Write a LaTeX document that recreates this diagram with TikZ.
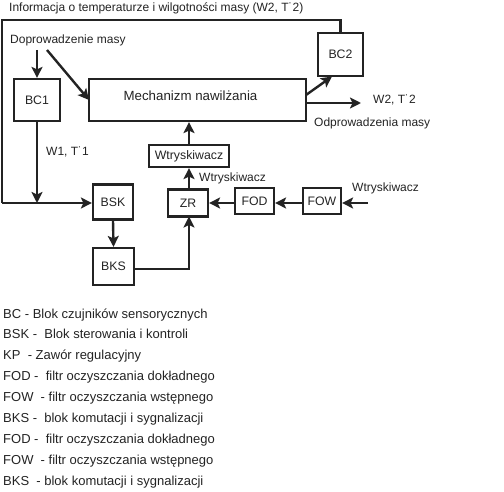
\documentclass[tikz,border=0pt]{standalone}
\usepackage{fontspec}
\setmainfont{Liberation Sans}
\usetikzlibrary{arrows.meta}
\definecolor{ink}{RGB}{35,35,35}
\begin{document}
\begin{tikzpicture}[x=1pt,y=-1pt, line width=2.4pt, draw=ink,
  blk/.style={draw=ink, line width=2.2pt, inner sep=0pt, font=\fontsize{12.3}{14}\selectfont, text=ink},
  lbl/.style={inner sep=0pt, font=\fontsize{12}{14}\selectfont, text=ink},
  leg/.style={inner sep=0pt, anchor=base west, font=\fontsize{13}{15}\selectfont, text=ink},
  arr/.style={-{Stealth[length=11pt,width=11pt,inset=2.5pt]}}]
\useasboundingbox (0,0) rectangle (504,492);
% boxes
\node[blk, minimum width=45pt, minimum height=43pt] (bc2) at (340.5,54.5) {BC2};
\node[blk, minimum width=46pt, minimum height=42pt] (bc1) at (37,100) {BC1};
\node[blk, minimum width=217pt, minimum height=42pt] (mech) at (197.5,100) {};
\node[lbl, font=\fontsize{13.3}{15}\selectfont] (mecht) at (190.5,96) {Mechanizm nawilżania};
\node[blk, minimum width=40pt, minimum height=35pt] (bsk) at (113,202) {BSK};
\node[blk, minimum width=41pt, minimum height=37pt] (bks) at (113.5,266.5) {BKS};
\node[blk, minimum width=40pt, minimum height=27pt] (zr) at (188,203) {ZR};
\node[blk, minimum width=39pt, minimum height=26pt] (fod) at (254.5,201) {FOD};
\node[blk, minimum width=38pt, minimum height=26pt] (fow) at (322,201) {FOW};
\node[blk, minimum width=80pt, minimum height=22pt] (wtr) at (189,156) {Wtryskiwacz};
% labels
\node[lbl, anchor=base west] (title) at (8,12) {Informacja o temperaturze i wilgotności masy (W2, T˙2)};
\node[lbl, anchor=base west] (dopr) at (9,44) {Doprowadzenie masy};
\node[lbl, anchor=base west] (w2) at (372,104) {W2, T˙2};
\node[lbl, anchor=base west] (odpr) at (313,127) {Odprowadzenia masy};
\node[lbl, anchor=base west] (w1) at (45,156) {W1, T˙1};
\node[lbl, anchor=base west] (wtrl) at (198,182) {Wtryskiwacz};
\node[lbl, anchor=base west] (wtrr) at (351,192) {Wtryskiwacz};
% coordinates
\coordinate (tl) at (2,20);
\coordinate (tr) at (340.5,20);
\coordinate (bl) at (2,203);
\coordinate (j1) at (37,203);
\coordinate (d1) at (37,50);
\coordinate (d2) at (47,50);
\coordinate (w2e) at (361,103);
\coordinate (inR) at (368,203);
\coordinate (bkc) at (189,269);
% connectors
\draw (bc2.north) -- (tr) -- (tl) -- (bl);
\draw[arr] (bl) -- (bsk.west |- bl);
\draw[arr] (bc1.south) -- (j1);
\draw[arr] (d1) -- (bc1.north);
\draw[arr] (d2) -- (89,100);
\draw[arr] (306,95) -- (332,76.5);
\draw[arr] (306,103) -- (w2e);
\draw[arr] (bsk.south) -- (bks.north);
\draw[arr] (bks.east |- bkc) -- (bkc) -- (189,216.5);
\draw[arr] (inR) -- (fow.east |- inR);
\draw[arr] (fow.west |- inR) -- (fod.east |- inR);
\draw[arr] (fod.west |- inR) -- (zr.east |- inR);
\draw[arr] (189,189.5) -- (wtr.south);
\draw[arr] (wtr.north) -- (mech.south -| wtr.north);
% legend
\node[leg] (l1) at (2,318) {BC - Blok czujników sensorycznych};
\node[leg] (l2) at (2,338.9) {BSK -\ \ Blok sterowania i kontroli};
\node[leg] (l3) at (2,359.8) {KP\ \ - Zawór regulacyjny};
\node[leg] (l4) at (2,380.7) {FOD -\ \ filtr oczyszczania dokładnego};
\node[leg] (l5) at (2,401.6) {FOW\ \ - filtr oczyszczania wstępnego};
\node[leg] (l6) at (2,422.5) {BKS -\ \ blok komutacji i sygnalizacji};
\node[leg] (l7) at (2,443.4) {FOD -\ \ filtr oczyszczania dokładnego};
\node[leg] (l8) at (2,464.3) {FOW\ \ - filtr oczyszczania wstępnego};
\node[leg] (l9) at (2,485.2) {BKS\ \ - blok komutacji i sygnalizacji};
\end{tikzpicture}
\end{document}
